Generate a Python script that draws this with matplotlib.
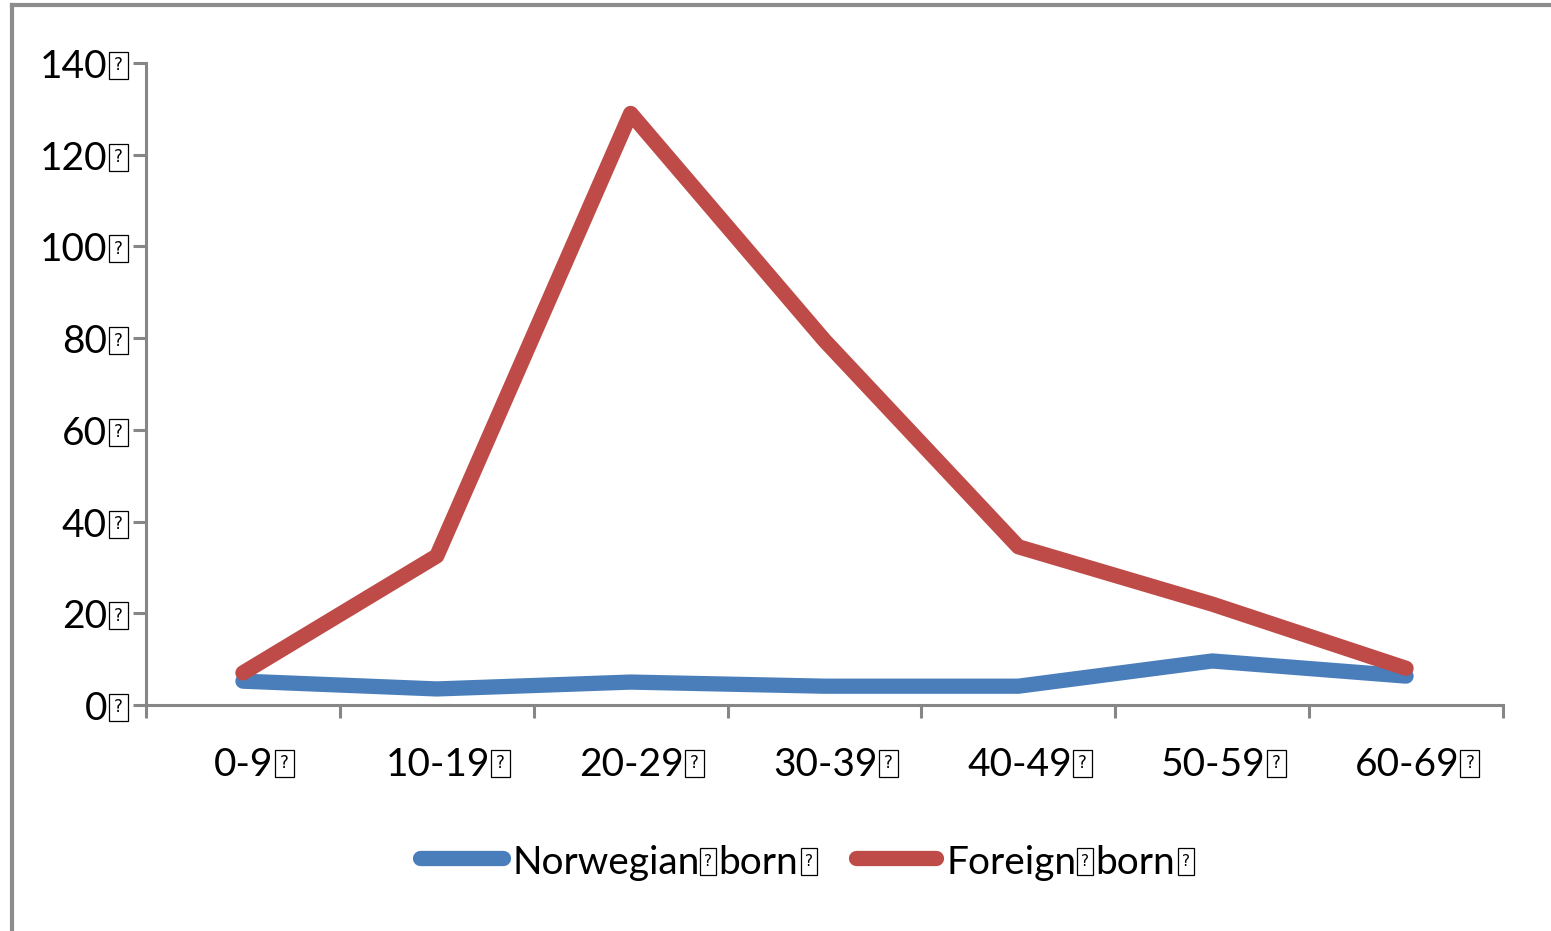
import matplotlib
matplotlib.use("Agg")
import matplotlib.pyplot as plt
from matplotlib.lines import Line2D
from matplotlib.patches import Rectangle

# Age groups and counts per group
age_groups = ["0-9", "10-19", "20-29", "30-39", "40-49", "50-59", "60-69"]
norwegian_born = [5.2, 3.5, 5.0, 4.1, 4.1, 9.6, 6.3]
foreign_born = [7.0, 32.5, 129, 79.5, 34.5, 22, 8.0]
y_ticks = [0, 20, 40, 60, 80, 100, 120, 140]
series_words = [["Norwegian", "born"], ["Foreign", "born"]]

W, H = 1551, 931
plt.rcParams["font.family"] = ["Lato", "DejaVu Sans"]

fig = plt.figure(figsize=(W / 100, H / 100), dpi=100)
fig.patch.set_facecolor("white")
ax = fig.add_axes([146 / W, (H - 705) / H, (1503 - 146) / W, (705 - 63) / H])

axis_gray = "#868686"
blue = "#4A7EBB"
red = "#BE4B48"
colors = [blue, red]

x = list(range(len(age_groups)))
for vals, c in zip([norwegian_born, foreign_born], colors):
    ax.plot(x, vals, color=c, lw=11, solid_capstyle="round", solid_joinstyle="round")

ax.set_xlim(-0.5, len(age_groups) - 0.5)
ax.set_ylim(0, 140)
for s in ["top", "right"]:
    ax.spines[s].set_visible(False)
for s in ["left", "bottom"]:
    ax.spines[s].set_color(axis_gray)
    ax.spines[s].set_linewidth(2.2)

ax.set_yticks(y_ticks)
ax.set_yticklabels([])
ax.tick_params(axis="y", direction="out", length=9.5, width=2.2, color=axis_gray)
ax.set_xticks([i - 0.5 for i in range(len(age_groups) + 1)])
ax.set_xticklabels([])
ax.tick_params(axis="x", direction="out", length=9.5, width=2.2, color=axis_gray)

renderer = fig.canvas.get_renderer()


def fpos(px, py_img):
    """pixel position (y measured from the top) -> figure fraction"""
    return px / W, (H - py_img) / H


def put_text(s, left, base_img, size):
    fx, fy = fpos(left, base_img)
    t = fig.text(fx, fy, s, fontsize=size, ha="left", va="baseline", color="black")
    return t.get_window_extent(renderer).width


def text_width(s, size):
    t = fig.text(0, 0, s, fontsize=size)
    w = t.get_window_extent(renderer).width
    t.remove()
    return w


def missing_glyph(left, top_img, w, h, qsize):
    fx, fy = fpos(left, top_img + h)
    fig.add_artist(Rectangle((fx, fy), w / W, h / H, transform=fig.transFigure,
                             fill=False, edgecolor="black", lw=0.9))
    cx, cy = fpos(left + w / 2, top_img + h / 2)
    fig.text(cx, cy, "?", fontsize=qsize, family="DejaVu Sans",
             ha="center", va="center", color="black")


tick_size = 28
spine_x = ax.transAxes.transform((0, 0))[0]
axis_y_img = H - ax.transAxes.transform((0, 0))[1]

# y tick labels
for v in y_ticks:
    ty_img = H - ax.transData.transform((0, v))[1]
    s = str(v)
    w = text_width(s, tick_size)
    put_text(s, spine_x - 39 - w, ty_img + 15, tick_size)
    missing_glyph(spine_x - 37, ty_img - 11, 19, 27, 12)

# x category labels
for i, g in enumerate(age_groups):
    cx = ax.transData.transform((i, 0))[0]
    w = text_width(g, tick_size)
    group = w + 1 + 19
    left = cx + 11 - group / 2
    put_text(g, left, axis_y_img + 71, tick_size)
    missing_glyph(left + w + 1, axis_y_img + 45, 19, 27, 12)

# legend
leg_y = 857.5
handles = [(419.5, 502.5), (855.5, 935.5)]
text_left = [512, 946]
for (x0, x1), c, words, tl in zip(handles, colors, series_words, text_left):
    fig.add_artist(Line2D([x0 / W, x1 / W], [(H - leg_y) / H] * 2, color=c, lw=11,
                          solid_capstyle="round", transform=fig.transFigure))
    w1 = put_text(words[0], tl, 874, tick_size)
    end1 = tl + w1
    missing_glyph(end1 + 1, 848, 16, 27, 11)
    w2 = put_text(words[1], end1 + 19, 874, tick_size)
    missing_glyph(end1 + 19 + w2 + 3, 848, 16, 27, 11)

# outer chart frame (left and top edges)
frame_gray = "#8C8C8C"
fig.add_artist(Line2D([11.5 / W, 11.5 / W], [0, (H - 5) / H], color=frame_gray,
                      lw=3, transform=fig.transFigure))
fig.add_artist(Line2D([11.5 / W, 1.0], [(H - 5) / H, (H - 5) / H], color=frame_gray,
                      lw=3, transform=fig.transFigure, solid_capstyle="projecting"))

fig.savefig("out.png", dpi=100, facecolor="white")
